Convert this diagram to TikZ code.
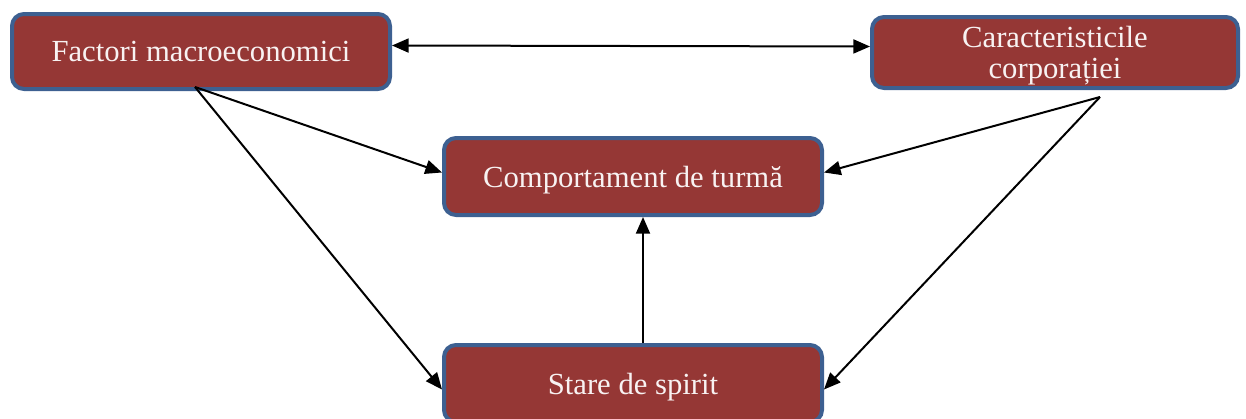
\documentclass[tikz,border=0pt]{standalone}
\usepackage{fontspec}
\setmainfont{Liberation Serif}
\usetikzlibrary{calc,arrows.meta}
\definecolor{boxred}{RGB}{149,55,53}
\definecolor{boxblue}{RGB}{61,96,145}
\definecolor{boxtext}{RGB}{248,242,242}
\tikzset{box/.style={draw=boxblue,fill=boxred,line width=3pt,rounded corners=9pt,
		text=boxtext,font=\fontsize{23}{23}\selectfont,align=center,inner sep=0pt,
		text depth=0pt,minimum width=283.5pt,minimum height=57.75pt},
	>={Triangle[length=12.5pt,width=10.5pt]},
	arr/.style={->,line width=1.5pt}}

\begin{document}
\begin{tikzpicture}[x=0.75pt,y=-0.75pt]
					\useasboundingbox (0,0) rectangle (1246,418);
					%BOXES
					\node[box,minimum height=56.25pt] (fac) at (201,51.5) {Factori macroeconomici};
					\node[box,minimum width=274.5pt,minimum height=53.25pt] (car) at (1055,52.5) {Caracteristicile\\corporației};
					\node[box] (comport) at (633,176.5) {Comportament de turmă};
					\node[box] (stare) at (633,383.5) {Stare de spirit};
					%ARROWS
					\coordinate (facout) at ($(fac.south)+(-6,-4)$);
					\coordinate (carout) at ($(car.south)+(45,7)$);
					\draw[arr,<->] ([yshift=4.5pt]fac.east) -- ([yshift=4.5pt]car.west);
					\draw[arr] (facout) -- ([yshift=3pt]comport.west);
					\draw[arr] (facout) -- ([yshift=-4.5pt]stare.west);
					\draw[arr] (carout) -- ([yshift=3pt]comport.east);
					\draw[arr] (carout) -- ([yshift=-4.5pt]stare.east);
					\draw[arr] ([xshift=7.5pt]stare.north) -- ([xshift=7.5pt]comport.south);
\end{tikzpicture}
\end{document}
